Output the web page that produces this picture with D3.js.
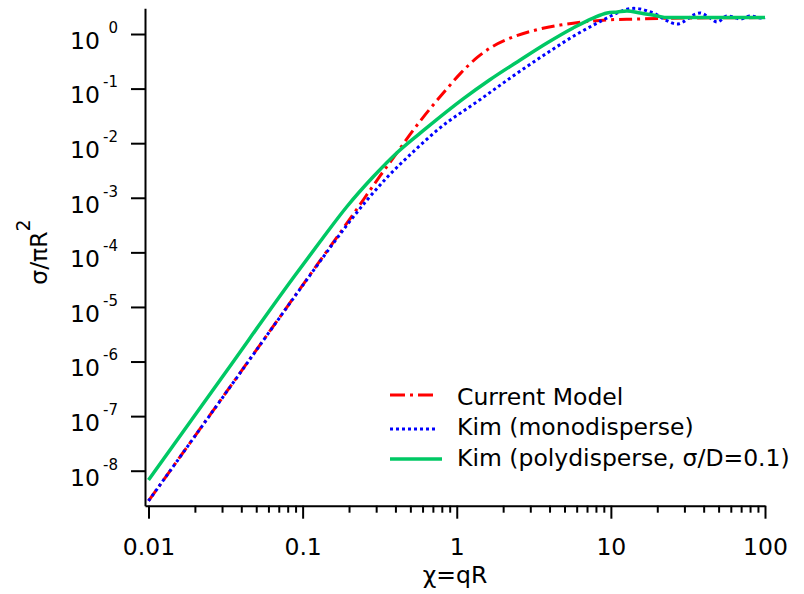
<!DOCTYPE html>
<html>
<head>
<meta charset="utf-8">
<script src="https://cdn.jsdelivr.net/npm/d3@7"></script>
<style>
  html, body { margin: 0; padding: 0; background: #fff; }
  svg { display: block; }
  text { font-family: "DejaVu Sans", sans-serif; fill: #000; }
</style>
</head>
<body>
<svg id="chart" width="804" height="594"></svg>
<script>
// ---------------- data ----------------
const xMajorTicks = [0.01, 0.1, 1, 10, 100];
const xMajorLabels = ["0.01", "0.1", "1", "10", "100"];
const xMinorTicks = [0.02,0.03,0.04,0.05,0.06,0.07,0.08,0.09,
                     0.2,0.3,0.4,0.5,0.6,0.7,0.8,0.9,
                     2,3,4,5,6,7,8,9,
                     20,30,40,50,60,70,80,90];
const yTickExponents = [0, -1, -2, -3, -4, -5, -6, -7, -8];

const seriesNames = ["Current Model", "Kim (monodisperse)", "Kim (polydisperse, \u03c3/D=0.1)"];

// Current Model
const currentX = [0.01, 0.0338, 0.115, 0.212, 0.318, 0.411, 0.498, 0.671, 0.853, 1.05, 1.37, 1.64, 2.29, 3.32, 4.69, 5.69, 9.89, 14.8, 20.8, 100];
const currentY = [2.79e-9, 3.43e-7, 4.37e-5, 4.90e-4, 2.51e-3, 6.76e-3, 0.0145, 0.0427, 0.0955, 0.186, 0.380, 0.550, 0.871, 1.20, 1.46, 1.58, 1.83, 1.88, 1.93, 2.0];

// Kim (monodisperse)
const monoX = [0.01, 0.0338, 0.112, 0.151, 0.194, 0.262, 0.355, 0.521, 0.748, 1.42, 2.32, 3.85, 6.04, 8.13, 10.0, 11.5, 12.7, 14.1, 15.5, 17.4, 19.4, 22.5, 26.9, 29.4, 34.2, 37.9, 42.1, 48.9, 56.8, 62.1, 68.9, 80.0, 95.7, 100];
const monoY = [2.79e-9, 3.4e-7, 3.85e-5, 1.23e-4, 3.16e-4, 9.12e-4, 2.40e-3, 6.92e-3, 0.0174, 0.0631, 0.170, 0.447, 1.0, 1.58, 2.14, 2.57, 2.85, 2.95, 2.88, 2.63, 2.34, 1.82, 1.52, 1.66, 2.23, 2.43, 2.14, 1.66, 2.14, 2.05, 1.88, 2.14, 1.96, 2.0];

// Kim (polydisperse, sigma/D = 0.1)
const polyX = [0.01, 0.0316, 0.0867, 0.130, 0.194, 0.286, 0.411, 0.631, 1.10, 1.64, 2.58, 3.85, 5.69, 7.67, 9.44, 11.0, 12.7, 15.5, 20.0, 23.2, 100];
const polyY = [6.76e-9, 6.31e-7, 3.39e-5, 1.58e-4, 6.92e-4, 2.40e-3, 6.76e-3, 0.0186, 0.0646, 0.145, 0.334, 0.684, 1.29, 1.96, 2.43, 2.53, 2.64, 2.43, 2.14, 2.0, 2.0];

// ---------------- chart ----------------
const svg = d3.select("#chart");
const FS = 23.5;

const x = d3.scaleLog().domain([0.00949, 100]).range([145, 765]);
const y = d3.scaleLog().domain([2.286e-9, 2.958]).range([505.7, 8.3]);

const styles = [
  { color: "#ff0000", dash: "13,5,3,5", width: 3 },
  { color: "#0000ff", dash: "3,3", width: 3 },
  { color: "#00c864", dash: null, width: 3.5 }
];
const series = [
  currentX.map((v, i) => ({ x: v, y: currentY[i] })),
  monoX.map((v, i) => ({ x: v, y: monoY[i] })),
  polyX.map((v, i) => ({ x: v, y: polyY[i] }))
];

const line = d3.line().x(d => x(d.x)).y(d => y(d.y)).curve(d3.curveMonotoneX);

series.forEach((s, i) => {
  svg.append("path")
    .datum(s)
    .attr("d", line)
    .attr("fill", "none")
    .attr("stroke", styles[i].color)
    .attr("stroke-width", styles[i].width)
    .attr("stroke-dasharray", styles[i].dash);
});

// x axis (major)
const gx = svg.append("g").attr("transform", "translate(0,505.7)")
  .call(d3.axisBottom(x).tickValues(xMajorTicks)
        .tickFormat((d, i) => xMajorLabels[i])
        .tickSize(13).tickSizeOuter(0).tickPadding(20));
gx.attr("font-family", null).attr("font-size", null);
gx.select(".domain").attr("stroke-width", 2);
gx.selectAll(".tick line").attr("stroke-width", 2);
gx.selectAll(".tick text").style("font-size", FS + "px");

// x axis (minor)
const gxm = svg.append("g").attr("transform", "translate(0,505.7)")
  .call(d3.axisBottom(x).tickValues(xMinorTicks).tickFormat("").tickSize(7).tickSizeOuter(0));
gxm.select(".domain").remove();
gxm.selectAll(".tick line").attr("stroke-width", 2);

// y axis
const gy = svg.append("g").attr("transform", "translate(145,0)")
  .call(d3.axisLeft(y).tickValues(yTickExponents.map(e => Math.pow(10, e)))
        .tickSize(14).tickSizeOuter(0));
gy.attr("font-family", null).attr("font-size", null);
gy.select(".domain").attr("stroke-width", 2);
gy.selectAll(".tick line").attr("stroke-width", 2);
gy.selectAll(".tick text")
  .attr("x", -45).attr("y", 14.3).attr("dy", null)
  .attr("text-anchor", "end")
  .style("font-size", FS + "px")
  .text("10");
gy.selectAll(".tick").each(function(d, i) {
  d3.select(this).append("text")
    .attr("x", -27).attr("y", -1.7)
    .attr("text-anchor", "end")
    .attr("fill", "#000")
    .style("font-size", "15px")
    .text(String(yTickExponents[i]));
});

// axis titles
svg.append("text")
  .attr("x", 455).attr("y", 583)
  .attr("text-anchor", "middle")
  .style("font-size", FS + "px")
  .text("\u03c7=qR");

const yt = svg.append("text")
  .attr("transform", "translate(47,252) rotate(-90)")
  .attr("text-anchor", "middle")
  .style("font-size", FS + "px");
yt.append("tspan").text("\u03c3/\u03c0R");
yt.append("tspan").attr("dy", -17).style("font-size", "19px").text("2");

// legend
const legendRows = [
  { y: 395, ty: 405, x2: 435 },
  { y: 429, ty: 435, x2: 438 },
  { y: 459, ty: 466, x2: 442 }
];
legendRows.forEach((r, i) => {
  svg.append("line")
    .attr("x1", 390).attr("x2", r.x2).attr("y1", r.y).attr("y2", r.y)
    .attr("stroke", styles[i].color)
    .attr("stroke-width", styles[i].width)
    .attr("stroke-dasharray", i === 0 ? "15,5,3,5" : styles[i].dash);
  svg.append("text")
    .attr("x", 457).attr("y", r.ty)
    .style("font-size", FS + "px")
    .text(seriesNames[i]);
});
</script>
</body>
</html>
